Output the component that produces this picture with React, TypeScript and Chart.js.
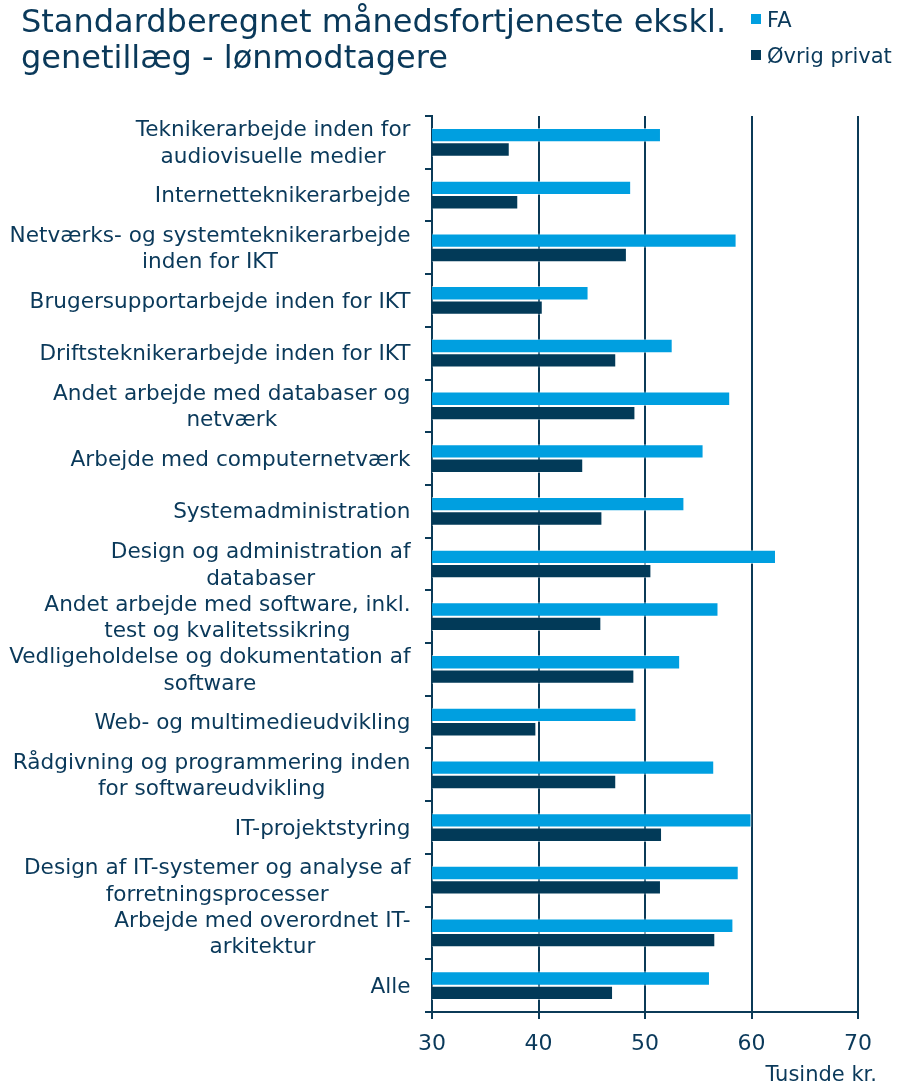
import React, { useEffect, useRef } from "react";
import { Chart, registerables } from "chart.js";

Chart.register(...registerables);

const categories: string[][] = [
  ["Teknikerarbejde inden for", "audiovisuelle medier"],
  ["Internetteknikerarbejde"],
  ["Netværks- og systemteknikerarbejde", "inden for IKT"],
  ["Brugersupportarbejde inden for IKT"],
  ["Driftsteknikerarbejde inden for IKT"],
  ["Andet arbejde med databaser og", "netværk"],
  ["Arbejde med computernetværk"],
  ["Systemadministration"],
  ["Design og administration af", "databaser"],
  ["Andet arbejde med software, inkl.", "test og kvalitetssikring"],
  ["Vedligeholdelse og dokumentation af", "software"],
  ["Web- og multimedieudvikling"],
  ["Rådgivning og programmering inden", "for softwareudvikling"],
  ["IT-projektstyring"],
  ["Design af IT-systemer og analyse af", "forretningsprocesser"],
  ["Arbejde med overordnet IT-", "arkitektur"],
  ["Alle"],
];

const faValues: number[] = [51.5, 48.7, 58.6, 44.7, 52.6, 58.0, 55.5, 53.7, 62.3, 56.9, 53.3, 49.2, 56.5, 60.0, 58.8, 58.3, 56.1];
const ovrigValues: number[] = [37.3, 38.1, 48.3, 40.4, 47.3, 49.1, 44.2, 46.0, 50.6, 45.9, 49.0, 39.8, 47.3, 51.6, 51.5, 56.6, 47.0];

const seriesNames = ["FA", "Øvrig privat"];
const titleLines = ["Standardberegnet månedsfortjeneste ekskl.", "genetillæg - lønmodtagere"];
const unitLabel = "Tusinde kr.";
const xMin = 30;
const xMax = 70;
const xStep = 10;

const TEXT = "#0a395a";
const LINE = "#0b3a57";
const FA_COLOR = "#009fe0";
const OV_COLOR = "#023a58";
const FONT = "'DejaVu Sans', Verdana, sans-serif";

const labelPlugin = {
  id: "blockLabels",
  afterDraw(chart: any) {
    const ctx = chart.ctx;
    const yScale = chart.scales.y;
    const fontSize = 21.6;
    const lineH = 26.6;
    const right = 410.5;
    ctx.save();
    ctx.font = `${fontSize}px ${FONT}`;
    ctx.fillStyle = TEXT;
    ctx.textBaseline = "alphabetic";
    ctx.textAlign = "center";
    categories.forEach((lines, i) => {
      const cy = yScale.getPixelForValue(i);
      const widths = lines.map((l) => ctx.measureText(l).width);
      const w = Math.max(...widths);
      const cx = right - w / 2;
      const n = lines.length;
      lines.forEach((l, j) => {
        const y = cy + (j - (n - 1) / 2) * lineH + 7.2;
        ctx.fillText(l, cx, y);
      });
    });
    ctx.restore();
  },
};

export default function App() {
  const ref = useRef<HTMLCanvasElement>(null);
  useEffect(() => {
    if (!ref.current) return;
    const chart = new Chart(ref.current, {
      type: "bar",
      data: {
        labels: categories.map((c) => c.join(" ")),
        datasets: [
          {
            label: seriesNames[0],
            data: faValues,
            backgroundColor: FA_COLOR,
            borderColor: "rgba(255,255,255,0.55)",
            borderWidth: 1,
          },
          {
            label: seriesNames[1],
            data: ovrigValues,
            backgroundColor: OV_COLOR,
            borderColor: "rgba(255,255,255,0.55)",
            borderWidth: 1,
          },
        ],
      },
      options: {
        indexAxis: "y",
        responsive: false,
        animation: false,
        devicePixelRatio: 1,
        layout: { padding: { top: 116, right: 51, bottom: 0, left: 0 } },
        datasets: { bar: { categoryPercentage: 0.545, barPercentage: 1 } },
        plugins: {
          legend: { display: false },
          title: { display: false },
          tooltip: { enabled: false },
        },
        scales: {
          x: {
            type: "linear",
            position: "bottom",
            min: xMin,
            max: xMax,
            ticks: {
              stepSize: xStep,
              color: TEXT,
              font: { family: FONT, size: 22 },
              padding: 12,
            },
            grid: { color: LINE, lineWidth: 2, tickLength: 7, drawTicks: true },
            border: { display: true, color: LINE, width: 2 },
            afterFit(s: any) {
              s.height = 76;
            },
          },
          y: {
            type: "category",
            position: "left",
            ticks: { display: false },
            grid: { offset: true, drawOnChartArea: false, color: LINE, lineWidth: 2, tickLength: 7, drawTicks: true },
            border: { display: true, color: LINE, width: 2 },
            afterFit(s: any) {
              s.width = 432;
            },
          },
        },
      } as any,
      plugins: [labelPlugin],
    });
    return () => chart.destroy();
  }, []);

  return (
    <div style={{ position: "absolute", left: 0, top: 0, width: 909, height: 1088, background: "#fff", fontFamily: FONT, color: TEXT }}>
      <canvas ref={ref} width={909} height={1088} style={{ position: "absolute", left: 0, top: 0, width: 909, height: 1088 }} />
      <div style={{ position: "absolute", left: 21, top: 3, fontSize: 32, lineHeight: "36px", whiteSpace: "nowrap" }}>
        {titleLines[0]}
        <br />
        {titleLines[1]}
      </div>
      <div style={{ position: "absolute", left: 751, top: 14, width: 10, height: 10, background: FA_COLOR }} />
      <div style={{ position: "absolute", left: 767, top: 9.5, fontSize: 21, lineHeight: "21px", whiteSpace: "nowrap" }}>{seriesNames[0]}</div>
      <div style={{ position: "absolute", left: 751, top: 50, width: 10, height: 10, background: OV_COLOR }} />
      <div style={{ position: "absolute", left: 767, top: 45.5, fontSize: 21, lineHeight: "21px", whiteSpace: "nowrap" }}>{seriesNames[1]}</div>
      <div style={{ position: "absolute", left: 677, width: 200, top: 1064, fontSize: 21, lineHeight: "21px", textAlign: "right", whiteSpace: "nowrap" }}>{unitLabel}</div>
    </div>
  );
}
